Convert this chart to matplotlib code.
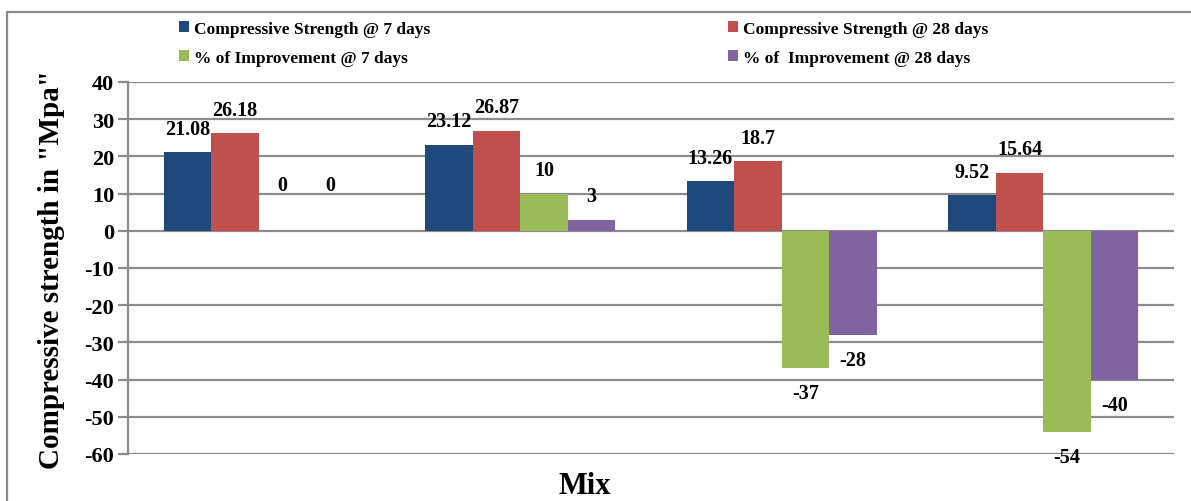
"""Compressive strength and % improvement per mix (grouped bar chart)."""

import numpy as np
import matplotlib
matplotlib.use("Agg")
import matplotlib.pyplot as plt
from matplotlib.patches import Patch, Rectangle

plt.rcParams["font.family"] = ["Liberation Serif", "DejaVu Serif"]
plt.rcParams["font.weight"] = "bold"

# data
mixes = ["Mix 1", "Mix 2", "Mix 3", "Mix 4"]
series_names = [
    "Compressive Strength @ 7 days",
    "Compressive Strength @ 28 days",
    "% of Improvement @ 7 days",
    "% of  Improvement @ 28 days",
]
cs_7 = [21.08, 23.12, 13.26, 9.52]
cs_28 = [26.18, 26.87, 18.7, 15.64]
imp_7 = [0, 10, -37, -54]
imp_28 = [0, 3, -28, -40]
label_text = [
    ["21.08", "23.12", "13.26", "9.52"],
    ["26.18", "26.87", "18.7", "15.64"],
    ["0", "10", "-37", "-54"],
    ["0", "3", "-28", "-40"],
]
yticks = list(range(-60, 41, 10))

colors = ["#1F497D", "#C0504D", "#9BBB59", "#8064A2"]
series = [cs_7, cs_28, imp_7, imp_28]

W, H = 1191, 502
fig = plt.figure(figsize=(W / 100, H / 100), dpi=100)
ax = fig.add_axes([128 / W, 1 - 455 / H, (1174 - 128) / W, (455 - 83) / H])

x = np.arange(len(mixes))
bw = 1 / 5.5  # excel gap width 150%
for i, (vals, col) in enumerate(zip(series, colors)):
    pos = x + (i - 1.5) * bw
    ax.bar(pos, vals, width=bw, color=col, zorder=3)
    for p, v, t in zip(pos, vals, label_text[i]):
        if v > 0:
            off = 17
        elif v < 0:
            off = -18
        else:
            off = 33
        ax.annotate(t, (p, v), xytext=(0, off), textcoords="offset points",
                    ha="center", va="center", fontsize=14.5, fontweight="bold",
                    zorder=4)

ax.set_xlim(-0.5, len(mixes) - 0.5)
ax.set_ylim(-60, 40)
ax.set_yticks(yticks)
ax.set_yticklabels([str(t) for t in yticks], fontsize=16, fontweight="bold")
ax.set_xticks([])
ax.yaxis.grid(True, color="#8C8C8C", linewidth=1.6, zorder=0)
ax.tick_params(axis="y", length=7, width=1.6, color="#8C8C8C", pad=3)
for s in ["top", "right", "bottom"]:
    ax.spines[s].set_visible(False)
ax.spines["left"].set_color("#8C8C8C")
ax.spines["left"].set_linewidth(1.6)

fig.text(52 / W, 1 - 270 / H, 'Compressive strength in "Mpa"', rotation=90,
         ha="center", va="center", fontsize=21, fontweight="bold")
fig.text(585 / W, 1 / H, "Mix", ha="center", va="bottom",
         fontsize=22, fontweight="bold")

# legend: two columns placed separately
handles = [Patch(facecolor=c, edgecolor="none") for c in colors]
for cols, xl in [((0, 2), 172), ((1, 3), 721)]:
    fig.legend([handles[j] for j in cols], [series_names[j] for j in cols],
               loc="upper left", bbox_to_anchor=(xl / W, 1 - 15 / H),
               frameon=False, handlelength=0.6, handleheight=0.6,
               handletextpad=0.25, labelspacing=0.75, borderaxespad=0,
               prop={"weight": "bold", "size": 12.5})

# outer chart border
fig.patches.append(Rectangle((7 / W, -0.05), 1.2, 1.05 - 13 / H, transform=fig.transFigure,
                             fill=False, edgecolor="#8C8C8C", linewidth=1.6))

fig.savefig("out.png", dpi=100)
